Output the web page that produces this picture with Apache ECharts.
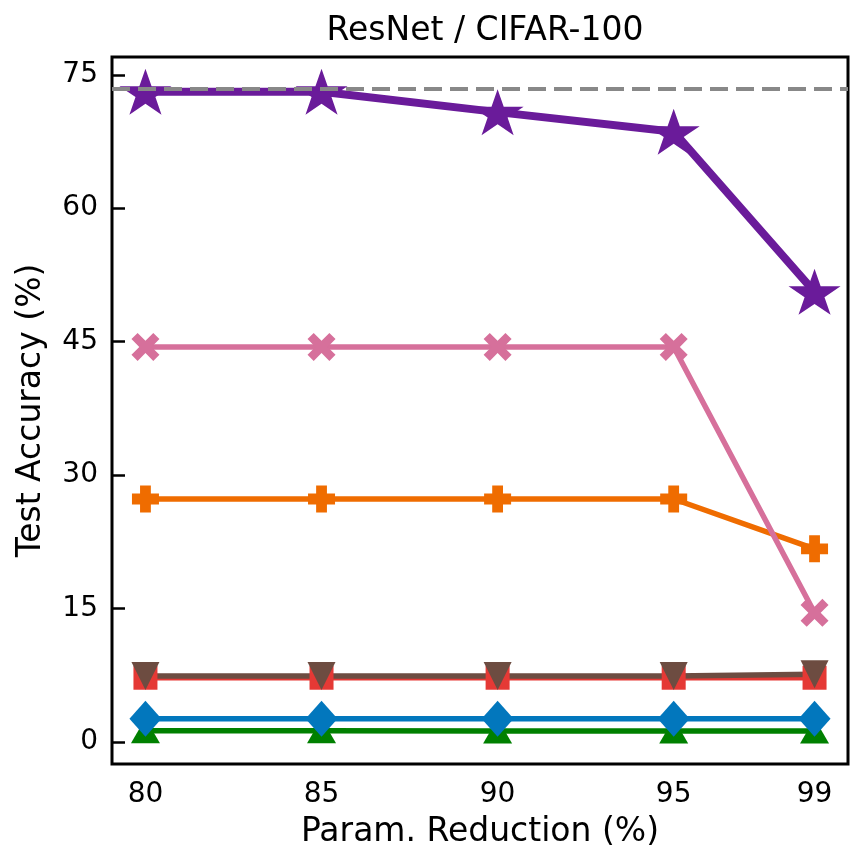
<!DOCTYPE html>
<html>
<head>
<meta charset="utf-8">
<script src="https://cdn.jsdelivr.net/npm/echarts@6/dist/echarts.min.js"></script>
<style>
  html, body { margin: 0; padding: 0; background: #fff; }
  #chart { width: 863px; height: 863px; }
</style>
</head>
<body>
<div id="chart"></div>
<script>
// 参数削减比例
const reduction = [80, 85, 90, 95, 99]
const yTicks = [0, 15, 30, 45, 60, 75]
const baseline = 73.4

// 各方法的测试精度
const accGreen = [1.25, 1.25, 1.2, 1.2, 1.2]
const accBlue = [2.6, 2.6, 2.6, 2.6, 2.6]
const accRed = [7.2, 7.2, 7.2, 7.2, 7.2]
const accBrown = [7.4, 7.4, 7.4, 7.4, 7.6]
const accOrange = [27.3, 27.3, 27.3, 27.3, 21.7]
const accPink = [44.4, 44.4, 44.4, 44.4, 14.5]
const accPurple = [73.1, 73.1, 70.8, 68.6, 50.6]

const starPath = 'path://M50,0 L61.2,34.5 L97.6,34.5 L68.2,55.9 L79.4,90.5 L50,69.1 L20.6,90.5 L31.8,55.9 L2.4,34.5 L38.8,34.5 Z'
const plusPath = 'path://M30,0 H70 V30 H100 V70 H70 V100 H30 V70 H0 V30 H30 Z'
const xPath = 'path://M0,22 L22,0 L50,28 L78,0 L100,22 L72,50 L100,78 L78,100 L50,72 L22,100 L0,78 L28,50 Z'

function pairs(vals) {
  return vals.map((v, i) => [reduction[i], v])
}

function line(name, vals, color, symbol, size, width, rotate) {
  return {
    name: name,
    type: 'line',
    data: pairs(vals),
    symbol: symbol,
    symbolSize: size,
    symbolRotate: rotate || 0,
    showAllSymbol: true,
    lineStyle: { color: color, width: width },
    itemStyle: { color: color, borderWidth: 0 },
    animation: false
  }
}

const font = 'DejaVu Sans'
const chart = echarts.init(document.getElementById('chart'))
chart.setOption({
  animation: false,
  title: {
    text: 'ResNet / CIFAR-100',
    left: 480,
    top: 10,
    textAlign: 'center',
    textStyle: { fontFamily: font, fontSize: 33, fontWeight: 'normal', color: '#000' }
  },
  grid: {
    left: 112,
    right: 15,
    top: 57,
    bottom: 99,
    show: true,
    borderColor: '#000',
    borderWidth: 3,
    backgroundColor: 'transparent'
  },
  xAxis: {
    type: 'value',
    min: 79.05,
    max: 99.95,
    name: 'Param. Reduction (%)',
    nameLocation: 'middle',
    nameGap: 52,
    nameTextStyle: { fontFamily: font, fontSize: 33, color: '#000' },
    splitLine: { show: false },
    axisLine: { show: false },
    axisTick: { show: true, inside: true, length: 13, lineStyle: { color: '#000', width: 2.5 }, customValues: reduction },
    axisLabel: { fontFamily: font, fontSize: 28, color: '#000', margin: 17, customValues: reduction }
  },
  yAxis: {
    type: 'value',
    min: -2.5,
    max: 77,
    name: 'Test Accuracy (%)',
    nameLocation: 'middle',
    nameRotate: 90,
    nameGap: 64,
    nameTextStyle: { fontFamily: font, fontSize: 33, color: '#000' },
    splitLine: { show: false },
    axisLine: { show: false },
    axisTick: { show: true, inside: true, length: 13, lineStyle: { color: '#000', width: 2.5 }, customValues: yTicks },
    axisLabel: { fontFamily: font, fontSize: 28, color: '#000', margin: 14, customValues: yTicks }
  },
  series: [
    line('green', accGreen, '#008000', 'triangle', [29, 25], 5.5),
    line('blue', accBlue, '#0277bd', 'diamond', [32, 36], 5.5),
    line('red', accRed, '#e53935', 'rect', [24, 24], 5.5),
    line('brown', accBrown, '#6d4c41', 'triangle', [28, 28], 5.5, 180),
    line('orange', accOrange, '#ef6c00', plusPath, [27, 27], 5.5),
    line('pink', accPink, '#d6709b', xPath, [28, 28], 5.5),
    Object.assign(line('purple', accPurple, '#6a1b9a', starPath, [52, 46], 8), {
      markLine: {
        silent: true,
        symbol: 'none',
        label: { show: false },
        lineStyle: { color: '#888', type: [18, 8], width: 4 },
        data: [{ yAxis: baseline }]
      }
    })
  ]
})
</script>
</body>
</html>
